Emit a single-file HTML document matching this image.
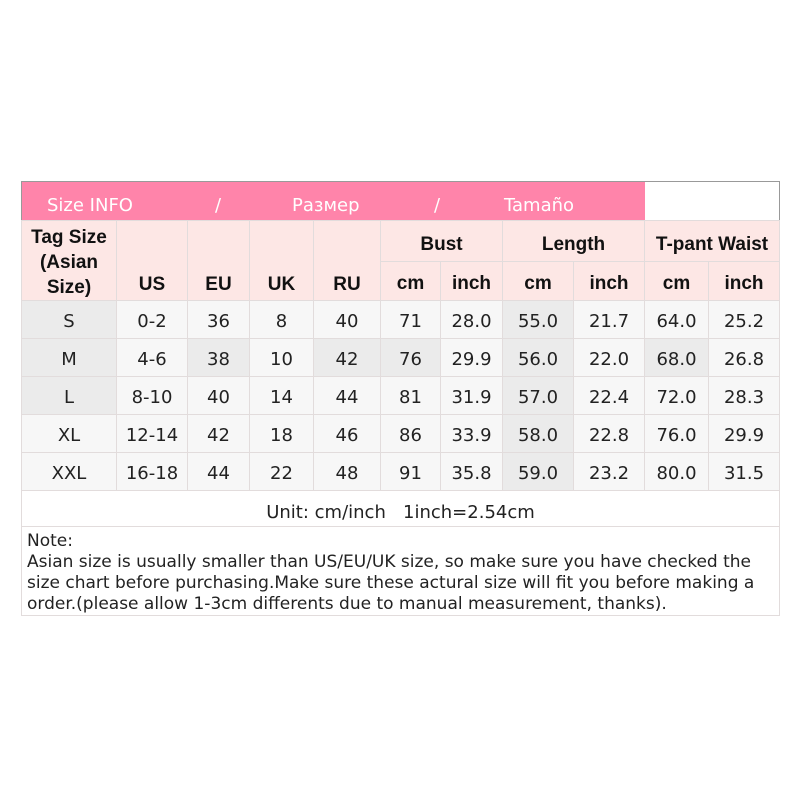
<!DOCTYPE html><html><head><style>
body{margin:0;width:800px;height:800px;background:#fff;position:relative;overflow:hidden}
table{position:absolute;left:21px;top:181px;border-collapse:collapse;table-layout:fixed;width:758px;border:1px solid #999}
td{border:1px solid #e2dcdc;padding:0;text-align:center;font-family:"DejaVu Sans",sans-serif;font-size:18px;color:#222}
.ban td{background:#ff84aa;color:#fff;border:none;font-size:18px;height:39px;padding-top:8px;box-sizing:border-box}
.h td{background:#fde7e5;font-family:"Liberation Sans",sans-serif;font-weight:bold;font-size:19px;color:#111}
.d td{height:38px;background:#f7f7f7;padding-top:4px;box-sizing:border-box}
.d td.g{background:#ebebeb}
</style></head><body>
<table>
<colgroup><col style="width:95px"><col style="width:71px"><col style="width:62px"><col style="width:64px"><col style="width:67px"><col style="width:60px"><col style="width:62px"><col style="width:71px"><col style="width:71px"><col style="width:64px"><col style="width:71px"></colgroup>
<tr class="ban"><td colspan="9" style="text-align:left;padding-left:25px;word-spacing:0"><span style="display:inline-block;width:168px">Size INFO</span><span style="display:inline-block;width:77px">/</span><span style="display:inline-block;width:142px">Размер</span><span style="display:inline-block;width:70px">/</span>Tamaño</td><td colspan="2" style="background:#fff"></td></tr>
<tr class="h"><td rowspan="2" style="line-height:25px;vertical-align:middle;padding-top:4px">Tag Size<br>(Asian<br>Size)</td><td rowspan="2" style="vertical-align:bottom;padding-bottom:4px">US</td><td rowspan="2" style="vertical-align:bottom;padding-bottom:4px">EU</td><td rowspan="2" style="vertical-align:bottom;padding-bottom:4px">UK</td><td rowspan="2" style="vertical-align:bottom;padding-bottom:4px">RU</td><td colspan="2" style="height:39px;padding-top:8px;box-sizing:border-box">Bust</td><td colspan="2" style="padding-top:8px">Length</td><td colspan="2" style="padding-top:8px">T-pant Waist</td></tr>
<tr class="h"><td style="height:37px;padding-top:5px;box-sizing:border-box">cm</td><td style="padding-top:5px">inch</td><td style="padding-top:5px">cm</td><td style="padding-top:5px">inch</td><td style="padding-top:5px">cm</td><td style="padding-top:5px">inch</td></tr>
<tr class="d"><td class="g">S</td><td>0-2</td><td>36</td><td>8</td><td>40</td><td>71</td><td>28.0</td><td class="g">55.0</td><td>21.7</td><td>64.0</td><td>25.2</td></tr>
<tr class="d"><td class="g">M</td><td>4-6</td><td class="g">38</td><td>10</td><td class="g">42</td><td class="g">76</td><td>29.9</td><td class="g">56.0</td><td>22.0</td><td class="g">68.0</td><td>26.8</td></tr>
<tr class="d"><td class="g">L</td><td>8-10</td><td>40</td><td>14</td><td>44</td><td>81</td><td>31.9</td><td class="g">57.0</td><td>22.4</td><td>72.0</td><td>28.3</td></tr>
<tr class="d"><td>XL</td><td>12-14</td><td>42</td><td>18</td><td>46</td><td>86</td><td>33.9</td><td class="g">58.0</td><td>22.8</td><td>76.0</td><td>29.9</td></tr>
<tr class="d"><td>XXL</td><td>16-18</td><td>44</td><td>22</td><td>48</td><td>91</td><td>35.8</td><td class="g">59.0</td><td>23.2</td><td>80.0</td><td>31.5</td></tr>
<tr><td colspan="11" style="height:36px;background:#fff;padding-top:7px;box-sizing:border-box">Unit: cm/inch &nbsp;&nbsp;1inch=2.54cm</td></tr>
<tr><td colspan="11" style="height:88px;text-align:left;vertical-align:top;padding:4px 4px 0 5px;box-sizing:border-box;font-size:17px;line-height:21px;background:#fff">Note:<br>Asian size is usually smaller than US/EU/UK size, so make sure you have checked the size chart before purchasing.Make sure these actural size will fit you before making a order.(please allow 1-3cm differents due to manual measurement, thanks).</td></tr>
</table>
</body></html>
